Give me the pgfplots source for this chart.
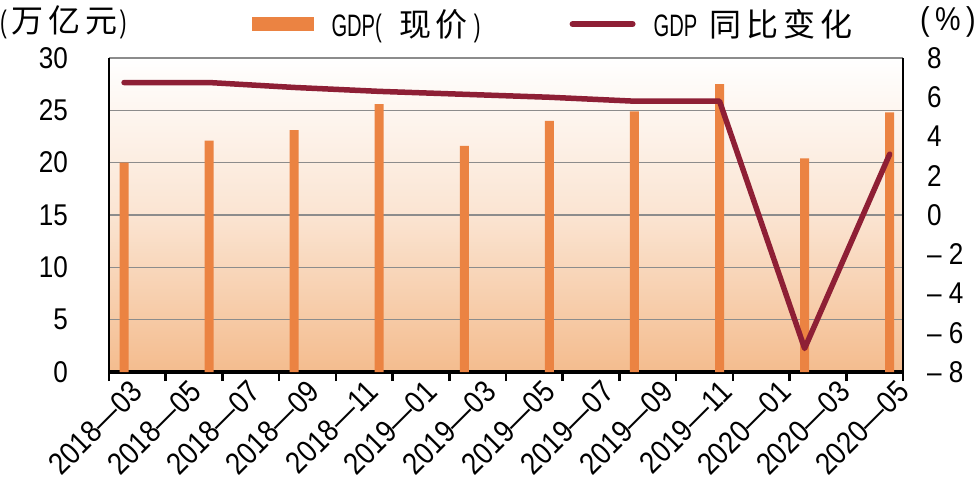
\documentclass[border=0pt]{standalone}
\usepackage{fontspec}
\setmainfont{Liberation Sans}[FakeStretch=0.87]
\newfontfamily\cjkfont{Noto Sans CJK SC}
\newfontfamily\narrowfont{Liberation Sans}[FakeStretch=0.65]
\usepackage{pgfplots}
\pgfplotsset{compat=1.18}
\usetikzlibrary{calc}
\definecolor{barorange}{RGB}{235,131,66}
\definecolor{linered}{RGB}{142,31,53}
\definecolor{bgpeach}{RGB}{244,188,142}
\definecolor{gridgray}{RGB}{140,140,140}
\newcommand\tickfont{\fontsize{30}{36}\selectfont}
\newcommand\xtickfont{\fontsize{31}{36}\selectfont}
\newcommand\legfont{\fontsize{31}{36}\selectfont}
\newcommand\cjk{\cjkfont\fontsize{32}{36}\selectfont}
\begin{document}
\begin{tikzpicture}
\begin{axis}[name=ax1, scale only axis, width=794pt, height=314pt,
  xmin=0, xmax=14, ymin=0, ymax=30,
  axis x line*=bottom, axis y line*=left,
  axis line style={-, line width=2.5pt, black},
  x axis line style={line width=3.5pt},
  xtick={0,...,14}, xticklabels={}, xtick style={line width=2.5pt, black},
  tick align=outside, major tick length=9pt,
  ytick={0,5,...,30}, ytick style={draw=none},
  ymajorgrids, grid style={gridgray, line width=1.2pt},
  yticklabel style={font=\tickfont, inner sep=0pt, anchor=east, xshift=-32pt},
  /pgf/number format/assume math mode=true,
  axis background/.style={shade, top color=white, bottom color=bgpeach, middle color=bgpeach!40!white},
  clip=false,
]
\addplot[ybar, bar width=9pt, fill=barorange, draw=none] coordinates {
  (0.265,20.0) (1.765,22.1) (3.265,23.1) (4.765,25.6) (6.265,21.6)
  (7.765,24.0) (9.265,24.9) (10.765,27.5) (12.265,20.4) (13.765,24.8)};
\end{axis}
\begin{axis}[scale only axis, width=794pt, height=314pt,
  xmin=0, xmax=14, ymin=-8, ymax=8,
  axis y line*=right, axis x line*=bottom,
  x axis line style={draw=none},
  y axis line style={-, line width=2.5pt, black},
  xtick={0.24,1.28,2.32,3.36,4.40,5.44,6.48,7.52,8.56,9.60,10.64,11.68,12.72,13.76},
  xticklabels={2018—03,2018—05,2018—07,2018—09,2018—11,2019—01,2019—03,2019—05,2019—07,2019—09,2019—11,2020—01,2020—03,2020—05},
  xtick style={draw=none},
  xticklabel style={font=\xtickfont, rotate=45, anchor=north east, inner sep=0pt, yshift=-9pt},
  ytick={-8,-6,...,8}, yticklabels={– 8,– 6,– 4,– 2,0,2,4,6,8}, ytick style={draw=none},
  yticklabel style={font=\tickfont, anchor=west, inner sep=0pt, xshift=24pt},
  /pgf/number format/assume math mode=true,
  clip=false,
  legend columns=2,
  legend style={at={(axis description cs:0.180,1.108)}, anchor=west, draw=none, fill=none,
    inner sep=0pt, font=\legfont, nodes={inner sep=0pt},
    /tikz/every odd column/.append style={column sep=18pt},
    /tikz/every even column/.append style={column sep=89pt}},
]
\addlegendimage{legend image code/.code={\fill[barorange] (0pt,-6.5pt) rectangle (61pt,6.5pt);}}
\addlegendentry{{\narrowfont GDP(}\hspace{18pt}{\cjk 现\hspace{4pt}价}\hspace{6pt}{\narrowfont )}}
\addplot[linered, line width=5.5pt, line cap=round, line join=round,
  legend image code/.code={\draw[linered, line width=6pt, line cap=round] (3pt,0pt) -- (63pt,0pt);}]
  coordinates {
  (0.265,6.75) (1.765,6.75) (3.265,6.5) (4.765,6.3) (6.265,6.15)
  (7.765,6.0) (9.265,5.8) (10.765,5.8) (12.265,-6.8) (13.765,3.1)};
\addlegendentry{{\narrowfont GDP}\hspace{12pt}{\cjk 同\hspace{5pt}比\hspace{5pt}变\hspace{5pt}化}}
\node[anchor=west, inner sep=0pt, font=\legfont] at ([xshift=-109pt,yshift=36pt]axis description cs:0,1) {{\narrowfont(}\hspace{5pt}{\cjk 万\hspace{5pt}亿\hspace{5pt}元}\hspace{2pt}{\narrowfont)}};
\node[anchor=east, inner sep=0pt] at ([xshift=73pt,yshift=36pt]axis description cs:1,1) {\fontsize{33}{38}\selectfont(\,\%\,)};
\end{axis}
\pgfresetboundingbox
\path[use as bounding box] ($(ax1.south west)+(-109pt,-112pt)$) rectangle ($(ax1.north east)+(73pt,58pt)$);
\end{tikzpicture}
\end{document}
